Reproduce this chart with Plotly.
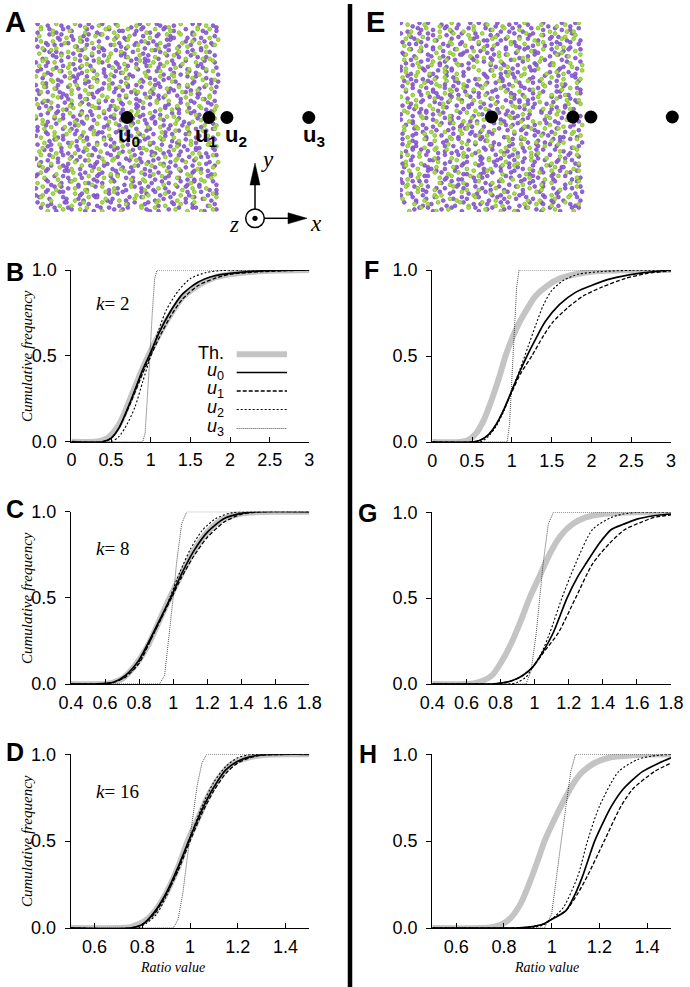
import plotly.graph_objects as go

W, H = 690, 987
SANS = "Liberation Sans"
SERIF = "Liberation Serif"

# ---------------- data ----------------
# positions of the four observation points (square side = 1)
U_POS = [0.5, 0.945, 1.043, 1.488]
U_Y = [0.5, 0.5, 0.5, 0.5]

# dot clouds: lower-case = purple, upper-case = green, '.' = empty cell
A_ROWS = [
    "bGe.AdhCfIbgEaHcD.iFbgAcehGdB.cIaEfh",
    "hAcEgbFd.Ia.gCbHedAfcIhB.aEdGbiCfhAe",
    "F.cBhaGdIebFcAgiDhEb.dHfaCegBicAh.Gd",
    "aDgEcIhbFdaGe..BhcAifEgdHcb.IeFaGdhC",
    "eHbcGa.FdIahEgcBfiDbAh.cGeaIdFb.hEcA",
    "IcfAdgEhBa.GebIcFh.dAgCbeHaiDfcGbEd.",
    ".hGbdAeIcFgaHbE.cfDiBhaEgc.AdHbfIeGa",
    "dBeF.aIhc.GbEdAfgHciBeaDhFcgIb.EhaCd",
    "CgaHdbEifAcG.hbDeIaFgcB.dAhEbiGcfH.e",
    "bIegCaF.hdAbGeIcfDh..EacBgIdhFaeGbCi",
    "Ae.GhcFbdIaEgcHb.fDaiCehBgdA.cFbIehG",
    "gEdBhaIcGfb.AeHdcFgiBaEhd.CbgIfa.Hec",
    "hCaFd.bGeIcAhdEfBgaHc.iDbFegAchIdaEb",
    "fAbHcegDi.EdaG.bhIcfAeBdgHaiCbEfd.Ga",
    "dIh.BaeGcFdbHiAgEc.fhCbIdaG.eBhcFdAg",
    "EbgAhcIdFaeGb.iHcdBfgAeC.hdIbF.aGceH",
    "c.FahEdB.giCbHefAdIcGa.hEbFcdIagBehD",
    "GdbIaeChfAgdHbiEc.aFhdBgeIcGa.bEdhC.",
    "aEhcFb.IdgAe.cHbfDiaGechBd.FagIcEhbA",
    "hBdGaIcfEb.gAhdCeiFa.cGbHdeBfIa.hDcE",
    "eCgI.bFadHcEhgBieAdcGfb.IhaEdCgbFecA",
    "dGbFheAcIdgBahE..cfIbDgaHecG.bAhdFiC",
    ".IfcAbhGdEa.gBchFdaIebHgcAfiDbEh.cGa",
    "bHeaCgF.dIbhAcfEgDa.hGbIc.eFadBhgCiE",
    "Fc.aGdhIbeAcF.gbHdEaiCfhBgdAecIbGh.a",
    "gAcEhbIdf.BaeGcHdiFbh.cAgEbIa.dHefCb",
    "IdbGe.hFacBidEgAh.bCfIdaHgeBcE.aGhdF",
    "cEhaFbdGiAceHb.gIdfBahCe.AdbGecIh.Fa",
    "hDa.GcbEif.AhdIcgBeaFhbGdCe.bIfaEchG",
    "aFgcHbeI.dBhaEcgAfId.GbhCeaFdiBgHcE.",
    "E.bgIdcAhFeGadCb.hIaeBf.cGdHbiEagAch",
    "dBhcGaeFbIgc.AhEdiCbfHagDe.cIbF.aEgh",
    "gHaEcb.FidAhgCeBda.IcfGbhEadHcgAbiFe",
    "cAfG.bdIehBcaFgdHibEcA.hGdbI.eCafDhB",
    "bEhdIcaGfBe.gAc.hFdbIeaCgHcdEbfA.iGd",
    ".aHcgEbdFiAhcGbeIda.CfhBg.dEaIcbHgFe",
]
E_ROWS = [
    "aEhcFb.IdgAe.cHbfDiaGechBd.FagIcEhbA",
    ".hGbdAeIcFgaHbE.cfDiBhaEgc.AdHbfIeGa",
    "aFgcHbeI.dBhaEcgAfId.GbhCeaFdiBgHcE.",
    "hAcEgbFd.Ia.gCbHedAfcIhB.aEdGbiCfhAe",
    "Fc.aGdhIbeAcF.gbHdEaiCfhBgdAecIbGh.a",
    "hCaFd.bGeIcAhdEfBgaHc.iDbFegAchIdaEb",
    "cAfG.bdIehBcaFgdHibEcA.hGdbI.eCafDhB",
    "CgaHdbEifAcG.hbDeIaFgcB.dAhEbiGcfH.e",
    "dGbFheAcIdgBahE..cfIbDgaHecG.bAhdFiC",
    "aDgEcIhbFdaGe..BhcAifEgdHcb.IeFaGdhC",
    "EbgAhcIdFaeGb.iHcdBfgAeC.hdIbF.aGceH",
    "cEhaFbdGiAceHb.gIdfBahCe.AdbGecIh.Fa",
    "bGe.AdhCfIbgEaHcD.iFbgAcehGdB.cIaEfh",
    ".aHcgEbdFiAhcGbeIda.CfhBg.dEaIcbHgFe",
    "Ae.GhcFbdIaEgcHb.fDaiCehBgdA.cFbIehG",
    "hBdGaIcfEb.gAhdCeiFa.cGbHdeBfIa.hDcE",
    "IcfAdgEhBa.GebIcFh.dAgCbeHaiDfcGbEd.",
    "dBhcGaeFbIgc.AhEdiCbfHagDe.cIbF.aEgh",
    "dIh.BaeGcFdbHiAgEc.fhCbIdaG.eBhcFdAg",
    "IdbGe.hFacBidEgAh.bCfIdaHgeBcE.aGhdF",
    "F.cBhaGdIebFcAgiDhEb.dHfaCegBicAh.Gd",
    "bHeaCgF.dIbhAcfEgDa.hGbIc.eFadBhgCiE",
    "bIegCaF.hdAbGeIcfDh..EacBgIdhFaeGbCi",
    "bEhdIcaGfBe.gAc.hFdbIeaCgHcdEbfA.iGd",
    "GdbIaeChfAgdHbiEc.aFhdBgeIcGa.bEdhC.",
    "dBeF.aIhc.GbEdAfgHciBeaDhFcgIb.EhaCd",
    "hDa.GcbEif.AhdIcgBeaFhbGdCe.bIfaEchG",
    "fAbHcegDi.EdaG.bhIcfAeBdgHaiCbEfd.Ga",
    "eCgI.bFadHcEhgBieAdcGfb.IhaEdCgbFecA",
    "gHaEcb.FidAhgCeBda.IcfGbhEadHcgAbiFe",
    "eHbcGa.FdIahEgcBfiDbAh.cGeaIdFb.hEcA",
    "gAcEhbIdf.BaeGcHdiFbh.cAgEbIa.dHefCb",
    "gEdBhaIcGfb.AeHdcFgiBaEhd.CbgIfa.Hec",
    "E.bgIdcAhFeGadCb.hIaeBf.cGdHbiEagAch",
    "c.FahEdB.giCbHefAdIcGa.hEbFcdIagBehD",
    ".IfcAbhGdEa.gBchFdaIebHgcAfiDbEh.cGa",
]

# ---- cumulative frequency curves (x = ratio value, y = cumulative freq) ----
# B : k = 2, left
B_TH_X = [0, 0.3, 0.45, 0.6, 0.75, 0.9, 1.0, 1.1, 1.25, 1.4, 1.6, 1.8, 2.0, 2.3, 2.6, 3.0]
B_TH_Y = [0, 0.0, 0.02, 0.1, 0.26, 0.43, 0.53, 0.62, 0.74, 0.84, 0.91, 0.955, 0.975, 0.99, 0.997, 1.0]
B_U0_X = [0, 0.4, 0.5, 0.6, 0.75, 0.9, 1.0, 1.1, 1.25, 1.4, 1.6, 1.8, 2.0, 2.4, 3.0]
B_U0_Y = [0, 0, 0.02, 0.08, 0.24, 0.42, 0.52, 0.63, 0.76, 0.86, 0.93, 0.965, 0.98, 0.995, 1.0]
B_U1_X = [0, 0.4, 0.5, 0.6, 0.75, 0.9, 1.0, 1.1, 1.25, 1.4, 1.6, 1.8, 2.0, 2.4, 3.0]
B_U1_Y = [0, 0, 0.02, 0.08, 0.23, 0.40, 0.50, 0.60, 0.73, 0.83, 0.91, 0.95, 0.975, 0.99, 1.0]
B_U2_X = [0, 0.5, 0.6, 0.7, 0.8, 0.9, 1.0, 1.1, 1.2, 1.35, 1.5, 1.7, 1.9, 2.2, 3.0]
B_U2_Y = [0, 0, 0.03, 0.1, 0.2, 0.35, 0.5, 0.65, 0.77, 0.88, 0.95, 0.985, 0.997, 1.0, 1.0]
B_U3_X = [0, 0.9, 0.93, 0.96, 0.99, 1.02, 1.05, 1.08, 3.0]
B_U3_Y = [0, 0, 0.05, 0.25, 0.5, 0.75, 0.95, 1.0, 1.0]

# F : k = 2, right
F_TH_X = [0, 0.35, 0.45, 0.55, 0.65, 0.75, 0.85, 0.92, 1.0, 1.1, 1.2, 1.3, 1.45, 1.6, 1.8, 2.0, 2.4, 3.0]
F_TH_Y = [0, 0, 0.01, 0.05, 0.13, 0.25, 0.39, 0.5, 0.6, 0.7, 0.78, 0.85, 0.91, 0.95, 0.975, 0.99, 0.998, 1.0]
F_U0_X = [0, 0.5, 0.6, 0.7, 0.8, 0.9, 1.0, 1.1, 1.2, 1.3, 1.42, 1.6, 1.8, 2.0, 2.25, 2.6, 3.0]
F_U0_Y = [0, 0, 0.01, 0.04, 0.1, 0.19, 0.3, 0.41, 0.51, 0.6, 0.7, 0.8, 0.87, 0.91, 0.95, 0.98, 1.0]
F_U1_X = [0, 0.5, 0.6, 0.7, 0.8, 0.9, 1.0, 1.1, 1.25, 1.4, 1.52, 1.7, 1.9, 2.13, 2.42, 2.7, 3.0]
F_U1_Y = [0, 0, 0.01, 0.04, 0.1, 0.19, 0.29, 0.39, 0.5, 0.62, 0.7, 0.78, 0.85, 0.9, 0.95, 0.98, 0.995]
F_U2_X = [0, 0.6, 0.7, 0.8, 0.9, 1.0, 1.1, 1.2, 1.3, 1.4, 1.5, 1.65, 1.83, 2.1, 2.5, 3.0]
F_U2_Y = [0, 0, 0.03, 0.09, 0.18, 0.3, 0.42, 0.55, 0.68, 0.8, 0.88, 0.94, 0.975, 0.99, 0.998, 1.0]
F_U3_X = [0, 0.94, 0.97, 1.0, 1.03, 1.06, 1.09, 3.0]
F_U3_Y = [0, 0, 0.1, 0.35, 0.65, 0.9, 1.0, 1.0]

# C : k = 8, left
C_TH_X = [0.4, 0.6, 0.65, 0.7, 0.77, 0.85, 0.92, 0.98, 1.05, 1.12, 1.2, 1.28, 1.36, 1.45, 1.6, 1.8]
C_TH_Y = [0, 0, 0.01, 0.03, 0.1, 0.22, 0.37, 0.5, 0.64, 0.77, 0.88, 0.95, 0.98, 0.995, 1.0, 1.0]
C_U0_X = [0.4, 0.55, 0.65, 0.72, 0.8, 0.87, 0.93, 0.99, 1.05, 1.12, 1.2, 1.3, 1.4, 1.5, 1.8]
C_U0_Y = [0, 0, 0.01, 0.05, 0.14, 0.27, 0.39, 0.51, 0.64, 0.77, 0.88, 0.96, 0.99, 1.0, 1.0]
C_U1_X = [0.4, 0.55, 0.65, 0.72, 0.8, 0.87, 0.93, 0.99, 1.05, 1.12, 1.2, 1.3, 1.4, 1.5, 1.8]
C_U1_Y = [0, 0, 0.01, 0.04, 0.12, 0.26, 0.38, 0.5, 0.62, 0.74, 0.85, 0.94, 0.985, 0.998, 1.0]
C_U2_X = [0.4, 0.6, 0.7, 0.78, 0.85, 0.92, 0.98, 1.04, 1.1, 1.17, 1.25, 1.35, 1.8]
C_U2_Y = [0, 0, 0.03, 0.1, 0.22, 0.36, 0.5, 0.65, 0.78, 0.89, 0.96, 0.995, 1.0]
C_U3_X = [0.4, 0.92, 0.95, 0.98, 1.0, 1.02, 1.05, 1.08, 1.8]
C_U3_Y = [0, 0, 0.05, 0.3, 0.5, 0.7, 0.93, 1.0, 1.0]

# G : k = 8, right
G_TH_X = [0.4, 0.6, 0.65, 0.7, 0.75, 0.8, 0.86, 0.92, 0.97, 1.03, 1.09, 1.15, 1.22, 1.3, 1.4, 1.5, 1.6, 1.8]
G_TH_Y = [0, 0, 0.005, 0.02, 0.05, 0.12, 0.23, 0.37, 0.5, 0.63, 0.76, 0.86, 0.93, 0.97, 0.99, 0.997, 1.0, 1.0]
G_U0_X = [0.4, 0.75, 0.8, 0.87, 0.93, 0.99, 1.05, 1.11, 1.19, 1.25, 1.3, 1.38, 1.45, 1.52, 1.6, 1.7, 1.8]
G_U0_Y = [0, 0, 0.005, 0.02, 0.05, 0.1, 0.19, 0.3, 0.5, 0.62, 0.7, 0.82, 0.9, 0.93, 0.96, 0.98, 0.99]
G_U1_X = [0.4, 0.75, 0.8, 0.87, 0.93, 0.99, 1.05, 1.14, 1.24, 1.34, 1.44, 1.53, 1.62, 1.7, 1.8]
G_U1_Y = [0, 0, 0.005, 0.02, 0.05, 0.1, 0.18, 0.3, 0.5, 0.7, 0.82, 0.9, 0.94, 0.97, 0.985]
G_U2_X = [0.4, 0.85, 0.9, 0.95, 0.99, 1.04, 1.09, 1.16, 1.24, 1.34, 1.45, 1.52, 1.6, 1.8]
G_U2_Y = [0, 0, 0.01, 0.04, 0.1, 0.18, 0.3, 0.5, 0.7, 0.9, 0.97, 0.99, 1.0, 1.0]
G_U3_X = [0.4, 0.95, 0.98, 1.01, 1.03, 1.05, 1.08, 1.11, 1.8]
G_U3_Y = [0, 0, 0.08, 0.3, 0.5, 0.7, 0.93, 1.0, 1.0]

# D : k = 16, left
D_TH_X = [0.5, 0.7, 0.75, 0.78, 0.82, 0.86, 0.9, 0.95, 0.99, 1.04, 1.08, 1.13, 1.18, 1.24, 1.3, 1.4, 1.5]
D_TH_Y = [0, 0, 0.005, 0.02, 0.05, 0.11, 0.2, 0.35, 0.5, 0.65, 0.77, 0.88, 0.95, 0.98, 0.995, 1.0, 1.0]
D_U0_X = [0.5, 0.75, 0.8, 0.85, 0.9, 0.95, 1.0, 1.05, 1.1, 1.15, 1.2, 1.25, 1.3, 1.5]
D_U0_Y = [0, 0, 0.02, 0.09, 0.2, 0.35, 0.52, 0.68, 0.81, 0.91, 0.96, 0.985, 0.997, 1.0]
D_U1_X = [0.5, 0.75, 0.8, 0.85, 0.9, 0.95, 1.0, 1.05, 1.1, 1.15, 1.2, 1.25, 1.3, 1.5]
D_U1_Y = [0, 0, 0.02, 0.08, 0.19, 0.33, 0.5, 0.66, 0.79, 0.89, 0.95, 0.98, 0.995, 1.0]
D_U2_X = [0.5, 0.78, 0.82, 0.86, 0.9, 0.95, 1.0, 1.05, 1.1, 1.15, 1.2, 1.25, 1.5]
D_U2_Y = [0, 0, 0.03, 0.08, 0.18, 0.34, 0.52, 0.7, 0.84, 0.93, 0.98, 0.997, 1.0]
D_U3_X = [0.5, 0.93, 0.95, 0.97, 0.99, 1.01, 1.03, 1.05, 1.07, 1.5]
D_U3_Y = [0, 0, 0.05, 0.2, 0.42, 0.62, 0.82, 0.95, 1.0, 1.0]

# H : k = 16, right
H_TH_X = [0.5, 0.7, 0.75, 0.79, 0.83, 0.87, 0.91, 0.95, 0.97, 1.01, 1.05, 1.09, 1.13, 1.18, 1.24, 1.3, 1.38, 1.5]
H_TH_Y = [0, 0, 0.005, 0.02, 0.06, 0.14, 0.27, 0.42, 0.5, 0.62, 0.73, 0.83, 0.9, 0.95, 0.98, 0.99, 0.998, 1.0]
H_U0_X = [0.5, 0.85, 0.9, 0.96, 1.0, 1.06, 1.1, 1.13, 1.18, 1.22, 1.25, 1.3, 1.38, 1.45, 1.5]
H_U0_Y = [0, 0, 0.005, 0.02, 0.05, 0.1, 0.2, 0.3, 0.5, 0.62, 0.7, 0.8, 0.9, 0.95, 0.98]
H_U1_X = [0.5, 0.85, 0.9, 0.96, 1.0, 1.06, 1.11, 1.15, 1.22, 1.29, 1.34, 1.43, 1.5]
H_U1_Y = [0, 0, 0.005, 0.02, 0.05, 0.1, 0.2, 0.3, 0.5, 0.7, 0.8, 0.9, 0.95]
H_U2_X = [0.5, 0.88, 0.93, 0.97, 1.0, 1.05, 1.11, 1.15, 1.2, 1.28, 1.36, 1.42, 1.5]
H_U2_Y = [0, 0, 0.005, 0.02, 0.05, 0.12, 0.3, 0.5, 0.7, 0.9, 0.97, 0.99, 1.0]
H_U3_X = [0.5, 0.97, 1.0, 1.02, 1.04, 1.06, 1.08, 1.1, 1.5]
H_U3_Y = [0, 0, 0.08, 0.3, 0.5, 0.7, 0.9, 1.0, 1.0]

K_VALUES = ["2", "8", "16"]
X_TICKS_K2 = [0, 0.5, 1, 1.5, 2, 2.5, 3]
X_TICKS_K8 = [0.4, 0.6, 0.8, 1, 1.2, 1.4, 1.6, 1.8]
X_TICKS_K16 = [0.6, 0.8, 1, 1.2, 1.4]
Y_TICKS = [0, 0.5, 1]
Y_TICK_TEXT = ["0.0", "0.5", "1.0"]
LEGEND_NAMES = ["Th.", "<i>u</i><sub>0</sub>", "<i>u</i><sub>1</sub>", "<i>u</i><sub>2</sub>", "<i>u</i><sub>3</sub>"]

# ---------------- helpers ----------------
def fx(p):
    return p / W


def fy(p):
    return 1 - p / H


def fmt(v):
    return "%g" % v


def decode(rows):
    pxs, pys, gxs, gys = [], [], [], []
    n = len(rows)
    for r, row in enumerate(rows):
        m = len(row)
        for c, ch in enumerate(row):
            if ch == ".":
                continue
            s = ord(ch.lower()) - ord("a")
            x = (c + (s % 3 + 0.5) / 3) / m
            y = 1 - (r + (s // 3 + 0.5) / 3) / n
            if ch.islower():
                pxs.append(x); pys.append(y)
            else:
                gxs.append(x); gys.append(y)
    return pxs, pys, gxs, gys


TH_STYLE = dict(color="#c4c4c4", width=6)
U_STYLES = [
    dict(color="black", width=1.7),
    dict(color="black", width=1.3, dash="4px,2px"),
    dict(color="black", width=1.1, dash="2px,2px"),
    dict(color="#222222", width=0.8, dash="1px,1px"),
]

panels = [
    (1, (71.4, 309.3, 270, 441.7), [0, 3], X_TICKS_K2,
     [(B_TH_X, B_TH_Y), (B_U0_X, B_U0_Y), (B_U1_X, B_U1_Y), (B_U2_X, B_U2_Y), (B_U3_X, B_U3_Y)]),
    (2, (432.3, 671, 270, 442), [0, 3], X_TICKS_K2,
     [(F_TH_X, F_TH_Y), (F_U0_X, F_U0_Y), (F_U1_X, F_U1_Y), (F_U2_X, F_U2_Y), (F_U3_X, F_U3_Y)]),
    (3, (71, 309.3, 511.7, 684), [0.4, 1.8], X_TICKS_K8,
     [(C_TH_X, C_TH_Y), (C_U0_X, C_U0_Y), (C_U1_X, C_U1_Y), (C_U2_X, C_U2_Y), (C_U3_X, C_U3_Y)]),
    (4, (432.3, 671, 512.3, 684), [0.4, 1.8], X_TICKS_K8,
     [(G_TH_X, G_TH_Y), (G_U0_X, G_U0_Y), (G_U1_X, G_U1_Y), (G_U2_X, G_U2_Y), (G_U3_X, G_U3_Y)]),
    (5, (70.7, 309.3, 754.3, 928), [0.5, 1.5], X_TICKS_K16,
     [(D_TH_X, D_TH_Y), (D_U0_X, D_U0_Y), (D_U1_X, D_U1_Y), (D_U2_X, D_U2_Y), (D_U3_X, D_U3_Y)]),
    (6, (432.3, 671, 754.3, 928), [0.5, 1.5], X_TICKS_K16,
     [(H_TH_X, H_TH_Y), (H_U0_X, H_U0_Y), (H_U1_X, H_U1_Y), (H_U2_X, H_U2_Y), (H_U3_X, H_U3_Y)]),
]

fig = go.Figure()
layout = dict(
    width=W, height=H, margin=dict(l=0, r=0, t=0, b=0, autoexpand=False),
    paper_bgcolor="white", plot_bgcolor="rgba(0,0,0,0)",
    showlegend=False,
)


def axname(i):
    return ("xaxis", "yaxis") if i == 1 else ("xaxis%d" % i, "yaxis%d" % i)


def ref(i):
    return ("x", "y") if i == 1 else ("x%d" % i, "y%d" % i)


for idx, dom, xr, xt, curves in panels:
    xn, yn = axname(idx)
    xref, yref = ref(idx)
    layout[xn] = dict(
        domain=[fx(dom[0]), fx(dom[1])], range=xr, anchor=yref,
        showline=True, linecolor="black", linewidth=1.2,
        ticks="inside", ticklen=5, tickwidth=1.2, tickcolor="black",
        tickvals=xt, ticktext=[fmt(v) for v in xt],
        showgrid=False, zeroline=False, fixedrange=True, automargin=False,
        tickfont=dict(family=SANS, size=18, color="black"),
        ticklabelstandoff=2,
    )
    layout[yn] = dict(
        domain=[fy(dom[3]), fy(dom[2])], range=[0, 1], anchor=xref,
        showline=True, linecolor="black", linewidth=1.2,
        ticks="outside", ticklen=5, tickwidth=1.2, tickcolor="black",
        tickvals=Y_TICKS, ticktext=Y_TICK_TEXT,
        showgrid=False, zeroline=False, fixedrange=True, automargin=False,
        tickfont=dict(family=SANS, size=18, color="black"),
        ticklabelstandoff=5,
    )
    th = curves[0]
    fig.add_trace(go.Scatter(x=th[0], y=th[1], mode="lines",
                             line=dict(shape="spline", smoothing=0.8, **TH_STYLE),
                             xaxis=xref, yaxis=yref, hoverinfo="skip"))
    for j in (3, 2, 1, 0):
        cx_, cy_ = curves[j + 1]
        ln = dict(U_STYLES[j])
        if j == 3:
            ln["shape"] = "linear"
        else:
            ln["shape"] = "spline"
            ln["smoothing"] = 0.7
        fig.add_trace(go.Scatter(x=cx_, y=cy_, mode="lines", line=ln, xaxis=xref, yaxis=yref, hoverinfo="skip"))

# ---------------- dot clouds (A, E) ----------------
clouds = [(7, (35, 219, 23, 212), 320, A_ROWS), (8, (400, 583, 22, 212), 685, E_ROWS)]
for idx, dom, xend, rows in clouds:
    xn, yn = axname(idx)
    xref, yref = ref(idx)
    xmax = (xend - dom[0]) / (dom[1] - dom[0])
    layout[xn] = dict(domain=[fx(dom[0]), fx(xend)], range=[0, xmax], anchor=yref, visible=False, fixedrange=True)
    layout[yn] = dict(domain=[fy(dom[3]), fy(dom[2])], range=[0, 1], anchor=xref, visible=False, fixedrange=True)
    pxs, pys, gxs, gys = decode(rows)
    fig.add_trace(go.Scatter(x=pxs, y=pys, mode="markers", xaxis=xref, yaxis=yref, hoverinfo="skip",
                             marker=dict(size=3.8, color="#9466d6", line=dict(color="#7246c2", width=0.7))))
    fig.add_trace(go.Scatter(x=gxs, y=gys, mode="markers", xaxis=xref, yaxis=yref, hoverinfo="skip",
                             marker=dict(size=3.8, color="#acdc4e", line=dict(color="#7fbb22", width=0.8))))
    fig.add_trace(go.Scatter(x=U_POS, y=U_Y, mode="markers", xaxis=xref, yaxis=yref, hoverinfo="skip",
                             cliponaxis=False, marker=dict(size=13, color="black")))

fig.update_layout(**layout)

ann = []
label_shift = [0, -5, 7, 3]
for k, (ux, uy) in enumerate(zip(U_POS, U_Y)):
    ann.append(dict(x=ux, y=uy, xref="x7", yref="y7", text="<b>u</b><sub><b>%d</b></sub>" % k,
                    showarrow=False, xanchor="center", yanchor="middle", xshift=label_shift[k] + 2, yshift=-18,
                    font=dict(family=SANS, size=22, color="black")))

for t, x, y, s in [("A", 15, 22.5, 29), ("E", 375, 22.5, 29), ("B", 15, 272, 25), ("F", 371.5, 270, 25),
                   ("C", 15, 509, 25), ("G", 367.5, 512.5, 25), ("D", 15, 751.5, 25), ("H", 367.5, 753.5, 25)]:
    ann.append(dict(x=fx(x), y=fy(y), xref="paper", yref="paper", text="<b>%s</b>" % t, showarrow=False,
                    xanchor="center", yanchor="middle", font=dict(family=SANS, size=s, color="black")))

for kv, y in zip(K_VALUES, [304, 548, 791]):
    ann.append(dict(x=fx(94), y=fy(y), xref="paper", yref="paper", text="<i>k</i>= %s" % kv, showarrow=False,
                    xanchor="left", yanchor="middle", font=dict(family=SERIF, size=19, color="black")))

for y in [356, 598, 841]:
    ann.append(dict(x=fx(27), y=fy(y), xref="paper", yref="paper", text="<i>Cumulative frequency</i>",
                    showarrow=False, textangle=-90, xanchor="center", yanchor="middle",
                    font=dict(family=SERIF, size=15, color="black")))

for x in [172, 546]:
    ann.append(dict(x=fx(x), y=fy(967), xref="paper", yref="paper", text="<i>Ratio value</i>",
                    showarrow=False, xanchor="center", yanchor="middle",
                    font=dict(family=SERIF, size=14, color="black")))

leg_y = [354.3, 372.5, 391, 409.5, 428.5]
for name, y in zip(LEGEND_NAMES, leg_y):
    ann.append(dict(x=fx(226), y=fy(y - (1 if name == "Th." else 1.5)), xref="paper", yref="paper", text=name,
                    showarrow=False, xanchor="right", yanchor="middle",
                    font=dict(family=SANS, size=18, color="black")))

for t, x, y in [("y", 267, 160), ("x", 316, 223), ("z", 234, 224)]:
    ann.append(dict(x=fx(x), y=fy(y), xref="paper", yref="paper", text="<i>%s</i>" % t, showarrow=False,
                    xanchor="center", yanchor="middle", font=dict(family=SERIF, size=23, color="black")))

shapes = []
leg_styles = [TH_STYLE] + U_STYLES
for st, y in zip(leg_styles, leg_y):
    shapes.append(dict(type="line", xref="paper", yref="paper", x0=fx(236.7), x1=fx(287), y0=fy(y), y1=fy(y),
                       line=dict(st)))

shapes.append(dict(type="line", xref="paper", yref="paper", x0=fx(350), x1=fx(350), y0=fy(4), y1=fy(987),
                   line=dict(color="black", width=4.5)))

cx, cy = 255, 218.3
shapes.append(dict(type="line", xref="paper", yref="paper", x0=fx(cx), x1=fx(cx), y0=fy(cy - 9.3), y1=fy(183),
                   line=dict(color="black", width=1.5)))
shapes.append(dict(type="path", xref="paper", yref="paper",
                   path="M %f %f L %f %f L %f %f Z" % (fx(cx - 5), fy(185), fx(cx + 5), fy(185), fx(cx), fy(163)),
                   fillcolor="black", line=dict(color="black", width=0.5)))
shapes.append(dict(type="line", xref="paper", yref="paper", x0=fx(cx + 9.3), x1=fx(290), y0=fy(cy), y1=fy(cy),
                   line=dict(color="black", width=1.5)))
shapes.append(dict(type="path", xref="paper", yref="paper",
                   path="M %f %f L %f %f L %f %f Z" % (fx(288), fy(cy - 5.5), fx(288), fy(cy + 5.5), fx(307), fy(cy)),
                   fillcolor="black", line=dict(color="black", width=0.5)))
shapes.append(dict(type="circle", xref="paper", yref="paper", x0=fx(cx - 9.3), x1=fx(cx + 9.3),
                   y0=fy(cy + 9.3), y1=fy(cy - 9.3), line=dict(color="black", width=1.5)))
shapes.append(dict(type="circle", xref="paper", yref="paper", x0=fx(cx - 2.6), x1=fx(cx + 2.6),
                   y0=fy(cy + 2.6), y1=fy(cy - 2.6), fillcolor="black", line=dict(color="black", width=0)))

fig.update_layout(annotations=ann, shapes=shapes)
fig.write_html("out.html", config={"displayModeBar": False},
               post_script="document.body.style.margin='0px';")
